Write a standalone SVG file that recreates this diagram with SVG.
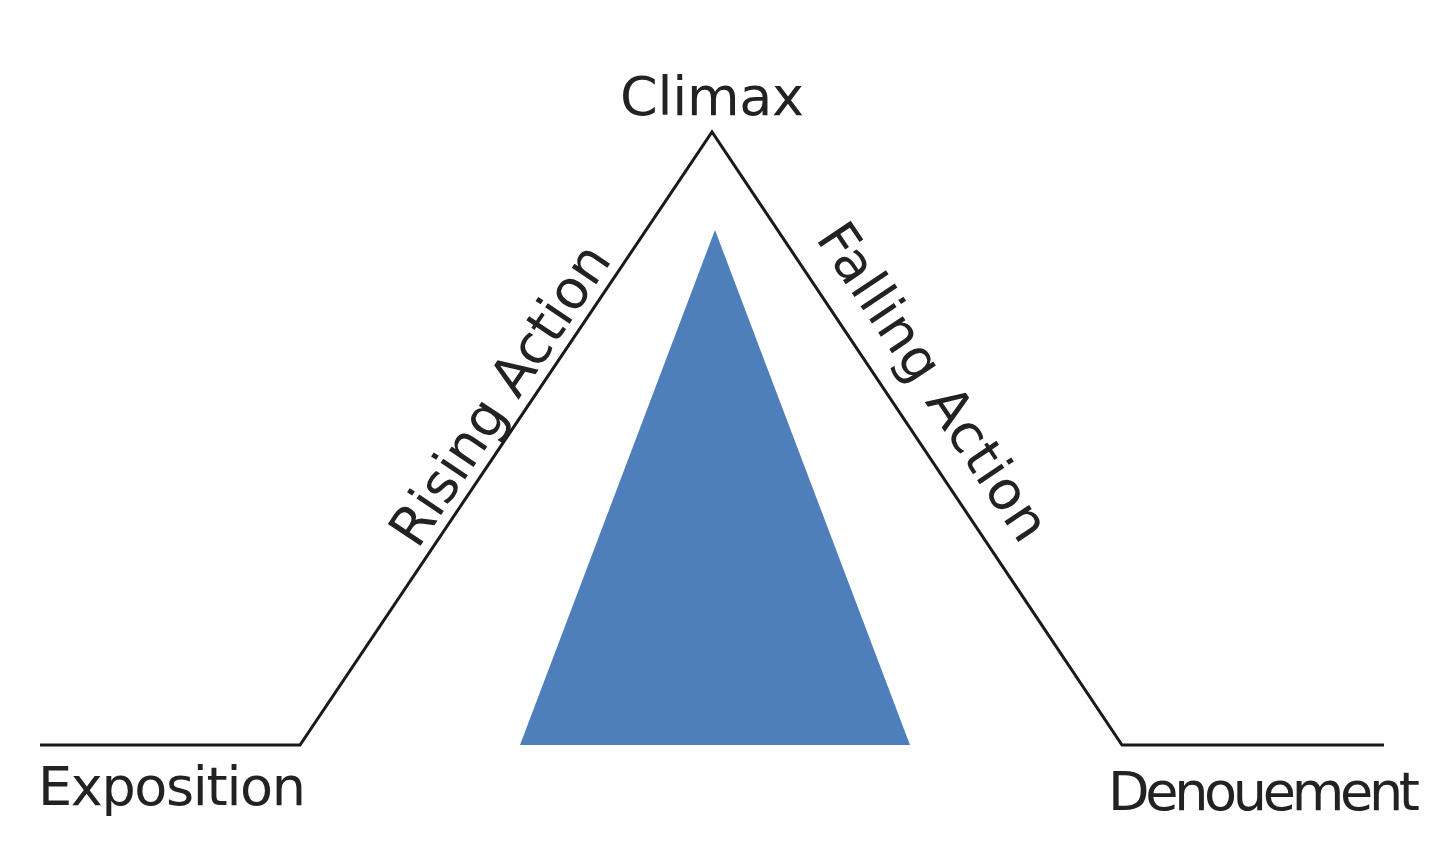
<svg xmlns="http://www.w3.org/2000/svg" width="1440" height="858" viewBox="0 0 1440 858">
<style>
text{font-family:"DejaVu Sans",sans-serif;font-size:54px;fill:#222}
.ln{fill:none;stroke:#1a1a1a;stroke-width:3}
</style>
<rect width="1440" height="858" fill="#fff"/>
<g id="connectors">
<polyline class="ln" points="40,745 300,745 712,132 1122,745 1384,745"/>
</g>
<g id="triangle"><polygon points="520,745 715,230 910,745" fill="#4f7fbb"/></g>
<g id="climax"><text x="712" y="115" text-anchor="middle" textLength="184">Climax</text></g>
<g id="exposition"><text x="38" y="805" textLength="268">Exposition</text></g>
<g id="denouement"><text x="1108" y="810" textLength="312">Denouement</text></g>
<g id="rising"><text transform="translate(515,405) rotate(-56.1)" text-anchor="middle" textLength="350">Rising Action</text></g>
<g id="falling"><text transform="translate(918,392) rotate(56.2)" text-anchor="middle" textLength="370">Falling Action</text></g>
</svg>
